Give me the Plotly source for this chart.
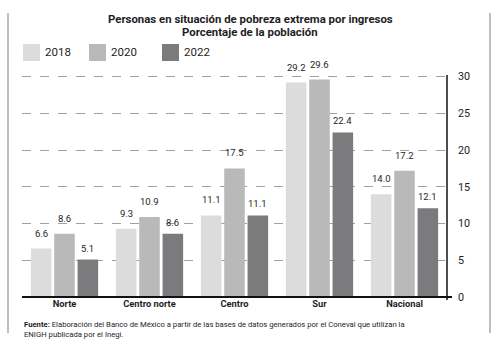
import plotly.graph_objects as go

categories = ["Norte", "Centro norte", "Centro", "Sur", "Nacional"]
years = ["2018", "2020", "2022"]
values_2018 = [6.6, 9.3, 11.1, 29.2, 14.0]
values_2020 = [8.6, 10.9, 17.5, 29.6, 17.2]
values_2022 = [5.1, 8.6, 11.1, 22.4, 12.1]
series = [values_2018, values_2020, values_2022]
colors = ["#dcdcdc", "#b9b9b9", "#7b7b7d"]
y_ticks = [0, 5, 10, 15, 20, 25, 30]

W, H = 500, 350
L, R, T, B = 22, 53, 73, 53
PW, PH = W - L - R, H - T - B
FONT = "Roboto, sans-serif"
TXT = "#1e1e1e"

def px_x(x):
    return (x - L) / PW

def px_y(y):
    return (H - B - y) / PH

fig = go.Figure()
for name, vals, col in zip(years, series, colors):
    fig.add_trace(go.Bar(x=categories, y=vals, name=name, marker_color=col,
                         marker_line_width=0, showlegend=False))

bargap, bargroupgap = 0.176, 0.12
slot = PW / len(categories) * (1 - bargap) / len(years)
annotations = []
yshifts = [8, 8, 4]
for i, vals in enumerate(series):
    off = (i - (len(years) - 1) / 2) * slot
    for c, v in zip(categories, vals):
        annotations.append(dict(x=c, y=v, text=f"{v:.1f}", showarrow=False,
                                xref="x", yref="y", xshift=off, yshift=yshifts[i],
                                yanchor="bottom", font=dict(family=FONT, size=9.5, color=TXT)))

# Title
annotations.append(dict(x=px_x(250), y=px_y(19), xref="paper", yref="paper", showarrow=False,
                        text="<b>Personas en situación de pobreza extrema por ingresos</b>",
                        font=dict(family=FONT, size=11.4, color=TXT), xanchor="center", yanchor="middle"))
annotations.append(dict(x=px_x(250), y=px_y(32), xref="paper", yref="paper", showarrow=False,
                        text="<b>Porcentaje de la población</b>",
                        font=dict(family=FONT, size=11.4, color=TXT), xanchor="center", yanchor="middle"))

# Legend (custom)
shapes = []
leg_x = [23, 89, 162]
for name, col, lx in zip(years, colors, leg_x):
    shapes.append(dict(type="rect", xref="paper", yref="paper",
                       x0=px_x(lx), x1=px_x(lx + 17), y0=px_y(61), y1=px_y(44),
                       fillcolor=col, line_width=0))
    annotations.append(dict(x=px_x(lx + 20), y=px_y(52.5), xref="paper", yref="paper",
                            showarrow=False, text=name, xanchor="left", yanchor="middle",
                            font=dict(family=FONT, size=11.5, color=TXT)))

# Footer
annotations.append(dict(x=px_x(22), y=px_y(317.5), xref="paper", yref="paper", showarrow=False,
                        xanchor="left", yanchor="top", align="left",
                        text="<b>Fuente:</b> Elaboración del Banco de México a partir de las bases de datos generados por el Coneval que utilizan la<br>ENIGH publicada por el Inegi.",
                        font=dict(family=FONT, size=7.7, color=TXT)))

# Frame lines
for fx in [8, 490]:
    shapes.append(dict(type="line", xref="paper", yref="paper",
                       x0=px_x(fx), x1=px_x(fx), y0=px_y(13), y1=px_y(333),
                       line=dict(color="#a8a8a8", width=1.5)))
# Axis lines
shapes.append(dict(type="line", xref="paper", yref="paper",
                   x0=px_x(22), x1=px_x(452), y0=0, y1=0, line=dict(color="#111", width=2)))
shapes.append(dict(type="line", xref="paper", yref="paper",
                   x0=1, x1=1, y0=px_y(300), y1=px_y(75), line=dict(color="#111", width=1.5)))

fig.update_layout(
    width=W, height=H, margin=dict(l=L, r=R, t=T, b=B),
    paper_bgcolor="white", plot_bgcolor="white",
    barmode="group", bargap=bargap, bargroupgap=bargroupgap,
    font=dict(family=FONT, color=TXT),
    xaxis=dict(showgrid=False, showline=False, ticks="", zeroline=False,
               tickfont=dict(family=FONT, size=9.3, color=TXT),
               tickprefix="<b>", ticksuffix="</b>"),
    yaxis=dict(side="right", range=[0, 30.5], tickvals=y_ticks, showline=False,
               zeroline=False, showgrid=True, gridcolor="#a0a0a0", griddash="dash",
               gridwidth=1, ticks="", ticklabelstandoff=10,
               tickfont=dict(family=FONT, size=10.8, color=TXT)),
    shapes=shapes, annotations=annotations,
)

fig.write_html("out.html")
